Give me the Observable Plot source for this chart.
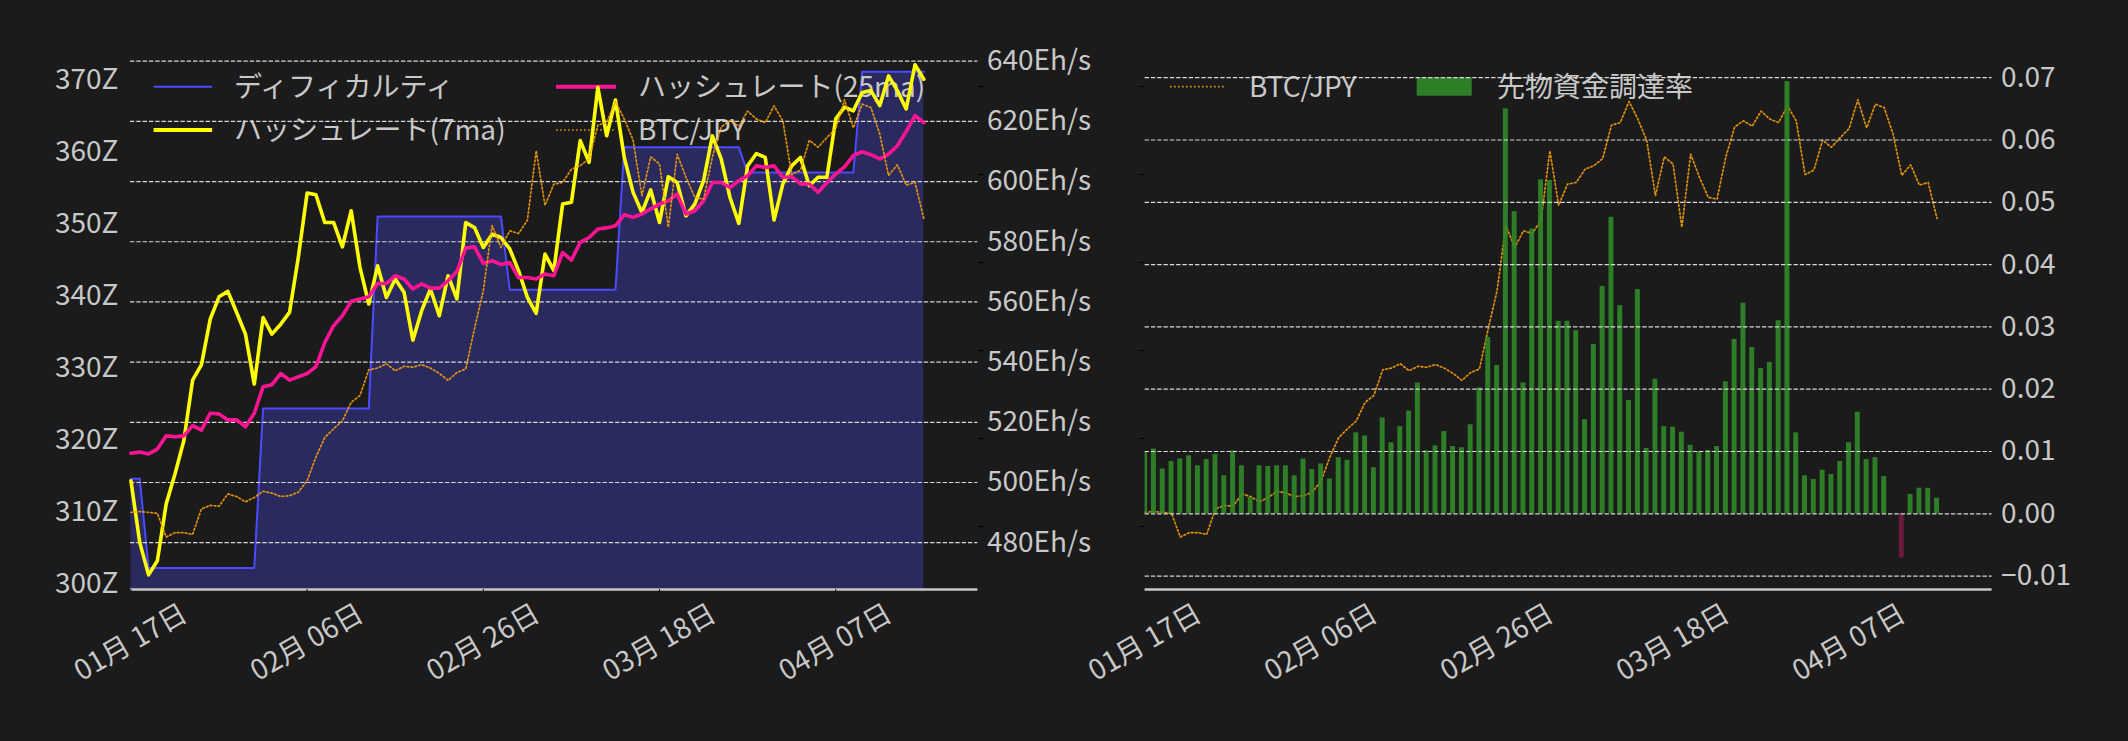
<!DOCTYPE html>
<html>
<head>
<meta charset="utf-8">
<script src="https://cdn.jsdelivr.net/npm/d3@7"></script>
<script src="https://cdn.jsdelivr.net/npm/@observablehq/plot@0.6"></script>
<style>
html, body { margin: 0; padding: 0; background: #1b1b1b; }
#fig { position: relative; width: 2128px; height: 741px; overflow: hidden; background: #1b1b1b; }
#fig > svg { position: absolute; left: 0; top: 0; }
</style>
</head>
<body>
<div id="fig"></div>
<script>
// ---------------- data ----------------
const startDate = "2025-01-17";          // first daily observation
const dayCount = 91;                      // daily points
const xTickDates = ["2025-01-17", "2025-02-06", "2025-02-26", "2025-03-18", "2025-04-07"];

// difficulty (Z)
const difficultyZ = [
  314.6, 314.6,
  302.2, 302.2, 302.2, 302.2, 302.2, 302.2, 302.2, 302.2, 302.2, 302.2, 302.2, 302.2, 302.2,
  324.4, 324.4, 324.4, 324.4, 324.4, 324.4, 324.4, 324.4, 324.4, 324.4, 324.4, 324.4, 324.4,
  351.1, 351.1, 351.1, 351.1, 351.1, 351.1, 351.1, 351.1, 351.1, 351.1, 351.1, 351.1, 351.1, 351.1, 351.1,
  340.9, 340.9, 340.9, 340.9, 340.9, 340.9, 340.9, 340.9, 340.9, 340.9, 340.9, 340.9, 340.9,
  360.7, 360.7, 360.7, 360.7, 360.7, 360.7, 360.7, 360.7, 360.7, 360.7, 360.7, 360.7, 360.7, 360.7,
  357.2, 357.2, 357.2, 357.2, 357.2, 357.2, 357.2, 357.2, 357.2, 357.2, 357.2, 357.2, 357.2,
  371.2, 371.2, 371.2, 371.2, 371.2, 371.2, 371.2, 371.2
];

// hashrate 7-day MA (Eh/s)
const hashrate7ma = [
  500.6, 480.1, 469.3, 474.0, 492.9, 502.8, 513.9, 534.0, 539.1, 554.3,
  561.7, 563.5, 556.5, 549.3, 532.7, 554.8, 549.3, 552.6, 556.5, 574.8,
  596.2, 595.6, 586.4, 586.4, 578.3, 590.3, 571.5, 559.3, 572.0, 561.5,
  567.6, 563.2, 547.3, 557.1, 564.3, 555.4, 568.7, 561.0, 586.4, 584.7,
  578.1, 582.5, 581.4, 577.6, 570.4, 561.5, 556.2, 575.9, 570.4, 592.5,
  593.1, 613.6, 606.4, 631.3, 615.2, 627.1, 608.0, 596.4, 589.7, 597.2,
  586.4, 601.6, 599.7, 588.6, 592.5, 600.3, 615.2, 607.5, 594.7, 586.1,
  605.2, 609.3, 608.0, 587.2, 599.2, 605.2, 608.0, 598.6, 601.4, 601.4,
  620.8, 624.7, 623.5, 629.6, 630.2, 625.2, 635.1, 630.2, 624.1, 638.8,
  634.0
];

// hashrate 25-day MA (Eh/s)
const hashrate25ma = [
  509.7, 510.1, 509.5, 511.1, 515.5, 515.2, 515.5, 518.9, 517.4, 523.0,
  522.8, 520.8, 520.8, 518.5, 523.0, 531.8, 532.5, 536.2, 534.0, 535.1,
  536.2, 538.5, 546.5, 552.1, 555.4, 560.2, 561.0, 561.7, 566.1, 566.1,
  568.7, 567.6, 564.3, 566.0, 564.6, 564.6, 567.0, 570.1, 577.9, 578.3,
  572.8, 573.7, 572.4, 573.1, 568.1, 568.1, 567.6, 569.3, 568.7, 576.4,
  573.9, 579.8, 581.4, 584.2, 584.6, 585.3, 589.0, 588.1, 589.2, 590.9,
  592.5, 593.6, 595.8, 589.2, 590.3, 593.6, 599.7, 599.7, 598.0, 600.3,
  601.9, 605.2, 604.7, 605.2, 601.4, 601.6, 599.2, 599.2, 596.4, 599.7,
  602.5, 604.9, 608.6, 609.9, 608.9, 607.5, 609.1, 611.9, 616.6, 621.9,
  619.6
];

// BTC/JPY (million yen)
const btcJpyMillions = [
  6.16, 6.17, 6.16, 6.15, 5.88, 5.93, 5.93, 5.91, 6.20, 6.24,
  6.23, 6.37, 6.34, 6.28, 6.33, 6.40, 6.38, 6.34, 6.35, 6.39,
  6.52, 6.79, 7.01, 7.11, 7.20, 7.41, 7.49, 7.78, 7.80, 7.85,
  7.77, 7.82, 7.81, 7.84, 7.80, 7.74, 7.66, 7.75, 7.79, 8.25,
  8.68, 9.42, 9.17, 9.36, 9.33, 9.48, 10.27, 9.65, 9.89, 9.91,
  10.06, 10.10, 10.18, 10.56, 10.59, 10.83, 10.63, 10.39, 9.76, 10.20,
  10.12, 9.40, 10.23, 9.97, 9.74, 9.72, 10.20, 10.54, 10.61, 10.55,
  10.72, 10.63, 10.59, 10.78, 10.61, 10.00, 10.05, 10.39, 10.31, 10.42,
  10.52, 10.85, 10.53, 10.80, 10.76, 10.46, 9.99, 10.11, 9.88, 9.91,
  9.50
];

// futures funding rate
const fundingRate = [
  0.0099, 0.0104, 0.0072, 0.0084, 0.0088, 0.0093, 0.0077, 0.0087, 0.0095, 0.0061,
  0.0101, 0.0077, 0.0026, 0.0077, 0.0076, 0.0077, 0.0077, 0.0061, 0.0088, 0.0071,
  0.0080, 0.0056, 0.0090, 0.0086, 0.0130, 0.0125, 0.0074, 0.0154, 0.0114, 0.0140,
  0.0165, 0.0210, 0.0101, 0.0109, 0.0132, 0.0108, 0.0106, 0.0143, 0.0202, 0.0283,
  0.0238, 0.0650, 0.0485, 0.0210, 0.0457, 0.0536, 0.0535, 0.0309, 0.0309, 0.0294,
  0.0151, 0.0272, 0.0365, 0.0476, 0.0334, 0.0182, 0.0360, 0.0105, 0.0216, 0.0140,
  0.0139, 0.0131, 0.0110, 0.0100, 0.0102, 0.0108, 0.0212, 0.0280, 0.0338, 0.0267,
  0.0233, 0.0243, 0.0310, 0.0694, 0.0130, 0.0061, 0.0055, 0.0070, 0.0063, 0.0084,
  0.0114, 0.0163, 0.0087, 0.0090, 0.0060, 0.0000, -0.0071, 0.0031, 0.0041, 0.0041,
  0.0025
];

// axis ticks
const yTicksDifficulty = [300, 310, 320, 330, 340, 350, 360, 370];
const yTicksHashrate = [480, 500, 520, 540, 560, 580, 600, 620, 640];
const yTicksBtc = [6, 7, 8, 9, 10, 11];
const yTicksRate = [-0.01, 0, 0.01, 0.02, 0.03, 0.04, 0.05, 0.06, 0.07];

// legend labels
const legendLeft = ["ディフィカルティ", "ハッシュレート(7ma)", "ハッシュレート(25ma)", "BTC/JPY"];
const legendRight = ["BTC/JPY", "先物資金調達率"];

// ---------------- layout / style ----------------
const W = 2128, H = 741, MT = 48, MB = 152;
const FONT = '"Noto Sans CJK JP", "Noto Sans", sans-serif';
const TXT = "#c8c8c8";
const GRID = "#d8d8d8";
const C_FILL = "#2a2a5e", C_DIFF = "#4b4bff", C_Y = "#ffff00", C_M = "#ff1493", C_BTC = "#ffa500";
const C_GREEN = "#318a2a", C_NEG = "#751b42";
const DAY = 864e5;
const t0 = d3.utcParse("%Y-%m-%d")(startDate);
const dates = d3.range(dayCount).map(i => d3.utcDay.offset(t0, i));
const tickDates = xTickDates.map(d3.utcParse("%Y-%m-%d"));
const fmtDate = d3.utcFormat("%m月 %d日");

const rows = dates.map((date, i) => ({
  date,
  difficulty: difficultyZ[i],
  h7: hashrate7ma[i],
  h25: hashrate25ma[i],
  btc: btcJpyMillions[i],
  rate: fundingRate[i]
}));

const leftM = {marginLeft: 130, marginRight: W - 977.4, marginTop: MT, marginBottom: MB};
const rightM = {marginLeft: 1144.6, marginRight: W - 1991.6, marginTop: MT, marginBottom: MB};
const xDomLeft = [new Date(+t0 - 0.05 * DAY), new Date(+t0 + 96.14 * DAY)];
const xDomRight = [new Date(+t0 - 0.0 * DAY), new Date(+t0 + 96.26 * DAY)];

const yDomDiff = [299.21, 374.45];
const yDomHash = [464.45, 644.2];
const yDomBtc = [5.284, 11.432];
const yDomRate = [-0.01215, 0.07469];

const style = {background: "transparent", color: TXT, fontFamily: FONT, fontSize: "28px", overflow: "visible"};
const fig = document.getElementById("fig");
const add = node => { fig.appendChild(node); };

const gridOpts = {stroke: GRID, strokeOpacity: 1, strokeWidth: 1.2, strokeDasharray: "4.4,1.9"};
const dotted = {stroke: C_BTC, strokeOpacity: 0.85, strokeWidth: 1.7, strokeDasharray: "1.7,2.3"};

// rotated date labels under the frame
const dateLabels = () => Plot.text(tickDates, {
  x: d => d, text: d => fmtDate(d), frameAnchor: "bottom", dy: 53, rotate: -30,
  textAnchor: "middle", lineAnchor: "middle", fill: TXT, fontSize: 28
});

// ---------- LEFT PANEL ----------
// layer 1: difficulty
add(Plot.plot({
  width: W, height: H, ...leftM, style,
  x: {type: "utc", domain: xDomLeft, axis: null},
  y: {domain: yDomDiff, axis: null},
  marks: [
    Plot.areaY(rows, {x: "date", y1: 0, y2: "difficulty", fill: C_FILL, clip: true}),
    Plot.lineY(rows, {x: "date", y: "difficulty", stroke: C_DIFF, strokeWidth: 2}),
    Plot.axisY({anchor: "left", ticks: yTicksDifficulty, tickFormat: d => d + "Z", tickSize: 0, tickPadding: 12, label: null}),
    Plot.ruleY([yDomDiff[0]], {stroke: "#c8c8c8", strokeWidth: 2.4}),
    Plot.axisX({ticks: tickDates, tickSize: 5, tickFormat: () => "", stroke: "#0c0c0c", label: null}),
    dateLabels()
  ]
}));

// legend (left) – belongs to the first axes, under the hashrate lines
function legend(items) {
  const svg = d3.create("svg").attr("width", W).attr("height", H)
    .attr("font-family", FONT).attr("font-size", 28);
  for (const it of items) {
    if (it.type === "line") {
      svg.append("line").attr("x1", it.x).attr("x2", it.x + it.len).attr("y1", it.y).attr("y2", it.y)
        .attr("stroke", it.stroke).attr("stroke-width", it.width)
        .attr("stroke-dasharray", it.dash || null).attr("stroke-opacity", it.opacity || 1);
    } else if (it.type === "rect") {
      svg.append("rect").attr("x", it.x).attr("y", it.y - 9.2).attr("width", it.len).attr("height", 18.4)
        .attr("fill", it.fill).attr("fill-opacity", 0.9);
    }
    svg.append("text").attr("x", it.tx).attr("y", it.y).attr("dy", "0.37em")
      .attr("fill", TXT).text(it.label);
  }
  return svg.node();
}
add(legend([
  {type: "line", x: 153.6, len: 58.5, y: 86.7, stroke: C_DIFF, width: 2, tx: 234, label: legendLeft[0]},
  {type: "line", x: 153.6, len: 58.5, y: 130, stroke: C_Y, width: 4, tx: 234, label: legendLeft[1]},
  {type: "line", x: 556, len: 60, y: 86.7, stroke: C_M, width: 4, tx: 638, label: legendLeft[2]},
  {type: "line", x: 556, len: 60, y: 130, stroke: C_BTC, width: 1.7, dash: "1.7,2.3", opacity: 0.85, tx: 638, label: legendLeft[3]}
]));

// layer 2: hashrate
add(Plot.plot({
  width: W, height: H, ...leftM, style,
  x: {type: "utc", domain: xDomLeft, axis: null},
  y: {domain: yDomHash, axis: null},
  marks: [
    Plot.gridY({ticks: yTicksHashrate, ...gridOpts}),
    Plot.lineY(rows, {x: "date", y: "h7", stroke: C_Y, strokeWidth: 3.6}),
    Plot.lineY(rows, {x: "date", y: "h25", stroke: C_M, strokeWidth: 3.6}),
    Plot.axisY({anchor: "right", ticks: yTicksHashrate, tickFormat: d => d + "Eh/s", tickSize: 0, tickPadding: 9, label: null})
  ]
}));

// layer 3: BTC/JPY (hidden axis)
add(Plot.plot({
  width: W, height: H, ...leftM, style,
  x: {type: "utc", domain: xDomLeft, axis: null},
  y: {domain: yDomBtc, axis: null},
  marks: [
    Plot.lineY(rows, {x: "date", y: "btc", ...dotted}),
    Plot.axisY({anchor: "right", ticks: yTicksBtc, tickSize: 5, tickFormat: () => "", stroke: "#000", label: null})
  ]
}));

// ---------- RIGHT PANEL ----------
// layer 1: BTC/JPY (hidden left axis)
add(Plot.plot({
  width: W, height: H, ...rightM, style,
  x: {type: "utc", domain: xDomRight, axis: null},
  y: {domain: yDomBtc, axis: null},
  marks: [
    Plot.lineY(rows, {x: "date", y: "btc", ...dotted}),
    Plot.axisY({anchor: "left", ticks: yTicksBtc, tickSize: 5, tickFormat: () => "", stroke: "#000", label: null})
  ]
}));

add(legend([
  {type: "line", x: 1170, len: 54, y: 86.7, stroke: C_BTC, width: 1.7, dash: "1.7,2.3", opacity: 0.85, tx: 1249, label: legendRight[0]},
  {type: "rect", x: 1416.7, len: 55, y: 86.5, fill: C_GREEN, tx: 1497, label: legendRight[1]}
]));

// layer 2: funding rate bars
add(Plot.plot({
  width: W, height: H, ...rightM, style,
  x: {type: "utc", domain: xDomRight, axis: null},
  y: {domain: yDomRate, axis: null},
  marks: [
    Plot.rect(rows, {
      x1: d => new Date(+d.date - 0.28 * DAY),
      x2: d => new Date(+d.date + 0.28 * DAY),
      y1: 0, y2: "rate",
      fill: d => d.rate < 0 ? C_NEG : C_GREEN,
      fillOpacity: 0.9,
      clip: true
    }),
    Plot.gridY({ticks: yTicksRate, ...gridOpts}),
    Plot.axisY({anchor: "right", ticks: yTicksRate, tickFormat: d3.format(".2f"), tickSize: 0, tickPadding: 9, label: null}),
    Plot.ruleY([yDomRate[0]], {stroke: "#c8c8c8", strokeWidth: 2.4}),
    dateLabels()
  ]
}));
</script>
</body>
</html>
